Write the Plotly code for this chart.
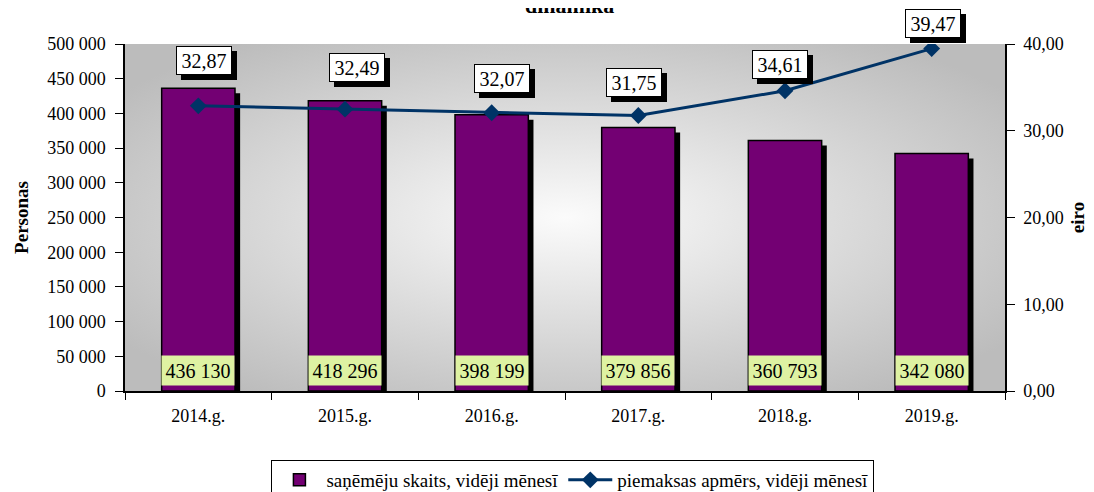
import base64
import plotly.graph_objects as go

years = ["2014.g.", "2015.g.", "2016.g.", "2017.g.", "2018.g.", "2019.g."]
recipients = [436130, 418296, 398199, 379856, 360793, 342080]
supplement = [32.87, 32.49, 32.07, 31.75, 34.61, 39.47]

bar_name = "saņēmēju skaits, vidēji mēnesī"
line_name = "piemaksas apmērs, vidēji mēnesī"

FONT = "Liberation Serif"
W, H = 1094, 492
# the page body adds an 8px offset, so margins are measured from (8, 8)
M = dict(l=117, r=97, t=36, b=109, autoexpand=False)
plot_h = H - M["t"] - M["b"]

# radial grey background of the plot area
svg = (
    '<svg xmlns="http://www.w3.org/2000/svg" width="880" height="347" '
    'preserveAspectRatio="none" viewBox="0 0 880 347">'
    '<defs><radialGradient id="g" cx="0.5" cy="0.5" r="0.62">'
    '<stop offset="0" stop-color="#fbfbfb"/><stop offset="1" stop-color="#bcbcbc"/>'
    '</radialGradient></defs><rect width="880" height="347" fill="url(#g)"/></svg>'
)
bg_src = "data:image/svg+xml;base64," + base64.b64encode(svg.encode()).decode()

px_to_val = 500000 / plot_h  # value per pixel on left axis

fig = go.Figure()

# bar shadow
fig.add_trace(go.Bar(
    x=years, y=[v - 5 * px_to_val for v in recipients],
    offset=-0.25 + 0.035, width=0.5,
    marker=dict(color="black", line=dict(width=0)),
    showlegend=False, hoverinfo="skip",
))
fig.add_trace(go.Bar(
    x=years, y=recipients, name=bar_name,
    offset=-0.25, width=0.5,
    marker=dict(color="#730073", line=dict(color="black", width=1.5)),
))
fig.add_trace(go.Scatter(
    x=years, y=supplement, name=line_name, yaxis="y2",
    mode="lines+markers",
    line=dict(color="#003366", width=3),
    marker=dict(symbol="diamond", size=13, color="#003366"),
))

# labels inside bars (bottom)
for yr, v in zip(years, recipients):
    fig.add_annotation(
        x=yr, y=0, yref="y", text=f"{v:,}".replace(",", " "),
        yanchor="bottom", yshift=5, showarrow=False,
        width=70, height=27, bgcolor="#def2a2",
        font=dict(family=FONT, size=20, color="black"),
    )

# labels above line points, with shadow
label_dx = [6, 12, 10, -4, -5, 1]
label_dy = [45, 42, 34, 33, 26, 25]
for yr, v, dx, dy in zip(years, supplement, label_dx, label_dy):
    txt = f"{v:.2f}".replace(".", ",")
    for sh, bg in ((5, "black"), (0, "white")):
        fig.add_annotation(
            x=yr, y=v, yref="y2", text=txt, showarrow=False,
            xshift=dx + sh, yshift=dy - sh,
            width=50, height=23,
            bgcolor=bg, bordercolor="black", borderwidth=1, borderpad=2,
            font=dict(family=FONT, size=20, color="black"),
        )

# title, cut off at the top as in the source
fig.add_annotation(
    x=0.505, xref="paper", y=1 + (M["t"] + 3) / plot_h, yref="paper",
    text="<b>dinamika</b>", showarrow=False, yanchor="middle",
    font=dict(family=FONT, size=22, color="black"),
)

fig.add_layout_image(dict(
    source=bg_src, xref="paper", yref="paper", x=0, y=1,
    sizex=1, sizey=1, xanchor="left", yanchor="top",
    sizing="stretch", layer="below",
))

axis_font = dict(family=FONT, size=18, color="black")
fig.update_layout(
    width=W, height=H, margin=M,
    paper_bgcolor="white", plot_bgcolor="rgba(0,0,0,0)",
    separators=", ",
    barmode="overlay", bargap=0.5,
    font=dict(family=FONT, size=18, color="black"),
    xaxis=dict(
        showline=True, linecolor="black", linewidth=1.5,
        ticks="outside", ticklen=7, tickcolor="black", tickson="boundaries",
        tickfont=axis_font, showgrid=False, ticklabelstandoff=8,
    ),
    yaxis=dict(
        range=[0, 500000], dtick=50000, tickformat=",d",
        showline=True, linecolor="black", linewidth=1.5,
        ticks="outside", ticklen=8, tickcolor="black",
        tickfont=axis_font, showgrid=False, zeroline=False, ticklabelstandoff=6,
        title=dict(text="<b>Personas</b>", font=dict(family=FONT, size=19), standoff=14),
    ),
    yaxis2=dict(
        overlaying="y", side="right", range=[0, 40], dtick=10, tickformat=".2f",
        showline=True, linecolor="black", linewidth=1.5,
        ticks="outside", ticklen=8, tickcolor="black",
        tickfont=axis_font, showgrid=False, zeroline=False, ticklabelstandoff=5,
        title=dict(text="<b>eiro</b>", font=dict(family=FONT, size=19), standoff=8),
    ),
    legend=dict(
        orientation="h", x=0.509, xanchor="center",
        y=-(452 - (H - M["b"])) / plot_h, yanchor="top",
        bgcolor="white", bordercolor="black", borderwidth=1,
        font=dict(family=FONT, size=19, color="black"),
        itemwidth=44, traceorder="normal",
    ),
    showlegend=True,
)

fig.write_html("out.html")
